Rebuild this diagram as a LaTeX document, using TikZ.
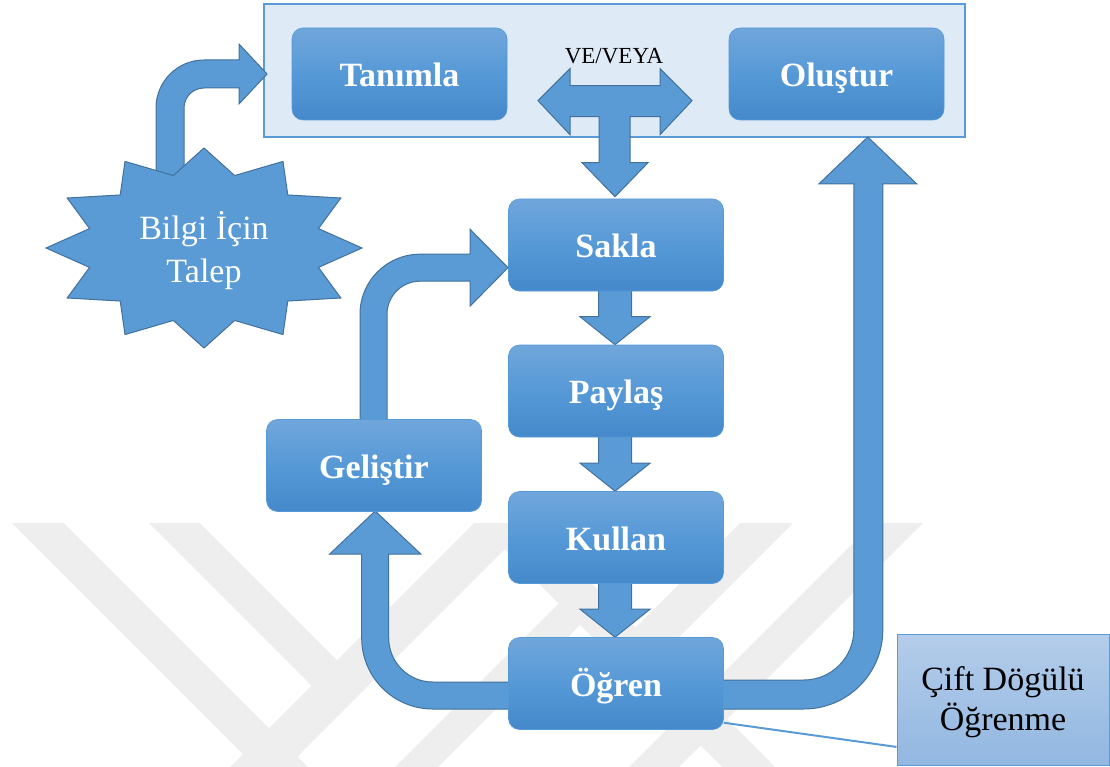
\documentclass[tikz,border=0pt]{standalone}
\usepackage{fontspec}
\setmainfont{Liberation Serif}
\usetikzlibrary{calc}

\definecolor{wmgray}{RGB}{238,238,238}
\definecolor{arrowfill}{RGB}{91,155,213}
\definecolor{arrowedge}{RGB}{65,113,156}
\definecolor{panelfill}{RGB}{222,234,246}
\definecolor{paneledge}{RGB}{91,155,213}
\definecolor{boxtop}{RGB}{112,166,219}
\definecolor{boxmid}{RGB}{86,153,215}
\definecolor{boxbot}{RGB}{69,137,203}
\definecolor{notetop}{RGB}{180,205,234}
\definecolor{notebot}{RGB}{146,183,225}

\pgfdeclarelayer{wm}
\pgfdeclarelayer{panel}
\pgfdeclarelayer{arrows}
\pgfsetlayers{wm,panel,arrows,main}

\tikzset{
  stage/.style={rectangle, rounded corners=11pt, minimum width=215pt,
    minimum height=92pt, inner sep=0pt, top color=boxtop, bottom color=boxbot,
    middle color=boxmid, draw=boxmid, line width=0.6pt, text=white,
    text height=25pt, text depth=0pt,
    font=\fontsize{34}{41}\selectfont\bfseries},
  fatarrow/.style={fill=arrowfill, draw=arrowedge, line width=1pt, line join=miter},
  burst/.style={fill=arrowfill, draw=arrowedge, line width=1pt},
  panelbox/.style={rectangle, fill=panelfill, draw=paneledge, line width=1.5pt,
    minimum width=701pt, minimum height=133pt, inner sep=0pt},
  notebox/.style={rectangle, top color=notetop, bottom color=notebot,
    draw=paneledge, line width=1pt, minimum width=212pt, minimum height=131pt,
    inner sep=0pt},
  notetext/.style={align=center, inner sep=0pt, font=\fontsize{34}{40}\selectfont},
  noteline/.style={draw=paneledge, line width=2pt},
  mark stripe/.style={fill=wmgray}
}

% straight block arrow from the bottom of one box to the top of the next
\newcommand\blockdrop[2]{%
  \path[fatarrow] ($(#1.south)+(-17.5,-2)$) -- ($(#1.south)+(15.5,-2)$)
    -- ($(#2.north)+(15.5,-28)$) -- ($(#2.north)+(34,-28)$) -- ($(#2.north)+(-1,0)$)
    -- ($(#2.north)+(-36,-28)$) -- ($(#2.north)+(-17.5,-28)$) -- cycle;}

\begin{document}
\begin{tikzpicture}[x=1pt,y=-1pt]
\useasboundingbox (0,0) rectangle (1110,767);

% faint emblem in the background
\begin{pgfonlayer}{wm}
  \begin{scope}
    \clip (0,0) rectangle (1110,767);
    \fill[mark stripe] (12,523) -- (64,523) -- (308,767) -- (256,767) -- cycle;
    \fill[mark stripe] (149,523) -- (200,523) -- (337,660) -- (311.5,685.5) -- cycle;
    \fill[mark stripe] (474,523) -- (531,523) -- (287,767) -- (230,767) -- cycle;
    \fill[mark stripe] (478,523) -- (531,523) -- (775,767) -- (722,767) -- cycle;
    \fill[mark stripe] (558.5,603.5) -- (580,625) -- (438,767) -- (395,767) -- cycle;
    \fill[mark stripe] (740,523) -- (793,523) -- (662,654) -- (635.5,627.5) -- cycle;
    \fill[mark stripe] (873,523) -- (923,523) -- (679,767) -- (629,767) -- cycle;
  \end{scope}
\end{pgfonlayer}

% the upper frame holding the two starting activities
\begin{pgfonlayer}{panel}
  \node[panelbox] (havuz) at (614.5,70.5) {};
\end{pgfonlayer}

% process boxes
\node[stage] (tanimla)  at (399.5,74)   {Tanımla};
\node[stage] (olustur)  at (836.5,74)   {Oluştur};
\node[stage] (sakla)    at (616,245)    {Sakla};
\node[stage] (paylas)   at (616,391)    {Paylaş};
\node[stage] (kullan)   at (616,537.5)  {Kullan};
\node[stage] (ogren)    at (616,683.5)  {Öğren};
\node[stage] (gelistir) at (374,465.5)  {Geliştir};

\node[font=\fontsize{23}{27}\selectfont, anchor=base, inner sep=0pt] (ve) at (614,64) {VE/VEYA};

% twelve-point burst with the request text
\coordinate (burstc) at (204,248);
\draw[burst] ([shift={(burstc)}]0:158 and 100)
  \foreach \a in {15,45,...,345} {
    -- ([shift={(burstc)}]\a:118.5 and 75) -- ([shift={(burstc)}]\a+15:158 and 100)
  } -- cycle;
\node[text=white, align=center, font=\fontsize{34}{43}\selectfont] (talep) at (204,251) {Bilgi İçin\\Talep};

% side note
\node[notebox] (cift) at (1003,699.5) {};
\node[notetext] (ciftyazi) at ($(cift.center)+(0,3)$) {Çift Dögülü\\Öğrenme};
\draw[noteline] (ogren.-20.5) -- (cift.204);

\begin{pgfonlayer}{arrows}
  % request -> frame
  \path[fatarrow] ($(talep)+(-48,-61)$) -- ++(0,-82)
    arc[start angle=180, end angle=270, radius=48] -- ++(35,0) -- ++(0,-16)
    -- ++(28,30) -- ++(-28,30) -- ++(0,-16) -- ++(-35,0)
    arc[start angle=270, end angle=180, radius=20] -- ++(0,82) -- cycle;

  % and/or split from the frame down to Sakla
  \path[fatarrow] ($(sakla.north)+(-1,-2)$) -- ++(-33,-34) -- ++(17,0) -- ++(0,-46)
    -- ++(-29,0) -- ++(0,18) -- ++(-32,-34) -- ++(32,-32) -- ++(0,17) -- ++(90,0)
    -- ++(0,-17) -- ++(32,32) -- ++(-32,34) -- ++(0,-18) -- ++(-30,0) -- ++(0,46)
    -- ++(18,0) -- cycle;

  % main chain
  \blockdrop{sakla}{paylas}
  \blockdrop{paylas}{kullan}
  \blockdrop{kullan}{ogren}

  % Öğren -> Geliştir
  \path[fatarrow] ($(ogren.west)+(3,-1.5)$) -- ++(-78.5,0)
    arc[start angle=90, end angle=180, radius=44] -- ++(0,-84) -- ++(32,0)
    -- ++(-45.5,-43) -- ++(-45.5,43) -- ++(32,0) -- ++(0,84)
    arc[start angle=180, end angle=90, radius=71] -- ++(78.5,0) -- cycle;

  % Geliştir -> Sakla
  \path[fatarrow] ($(gelistir.north)+(-14,2)$) -- ++(0,-107)
    arc[start angle=180, end angle=270, radius=60] -- ++(50,0) -- ++(0,-25)
    -- ++(38,38.5) -- ++(-38,38.5) -- ++(0,-25) -- ++(-50,0)
    arc[start angle=270, end angle=180, radius=33] -- ++(0,107) -- cycle;

  % Öğren -> Oluştur
  \path[fatarrow] ($(ogren.east)+(-4,-3.5)$) -- ++(84,0)
    arc[start angle=90, end angle=0, radius=50] -- ++(0,-446) -- ++(-35,0)
    -- ++(49,-47) -- ++(49,47) -- ++(-34,0) -- ++(0,446)
    arc[start angle=0, end angle=90, radius=79] -- ++(-84,0) -- cycle;
\end{pgfonlayer}
\end{tikzpicture}
\end{document}
